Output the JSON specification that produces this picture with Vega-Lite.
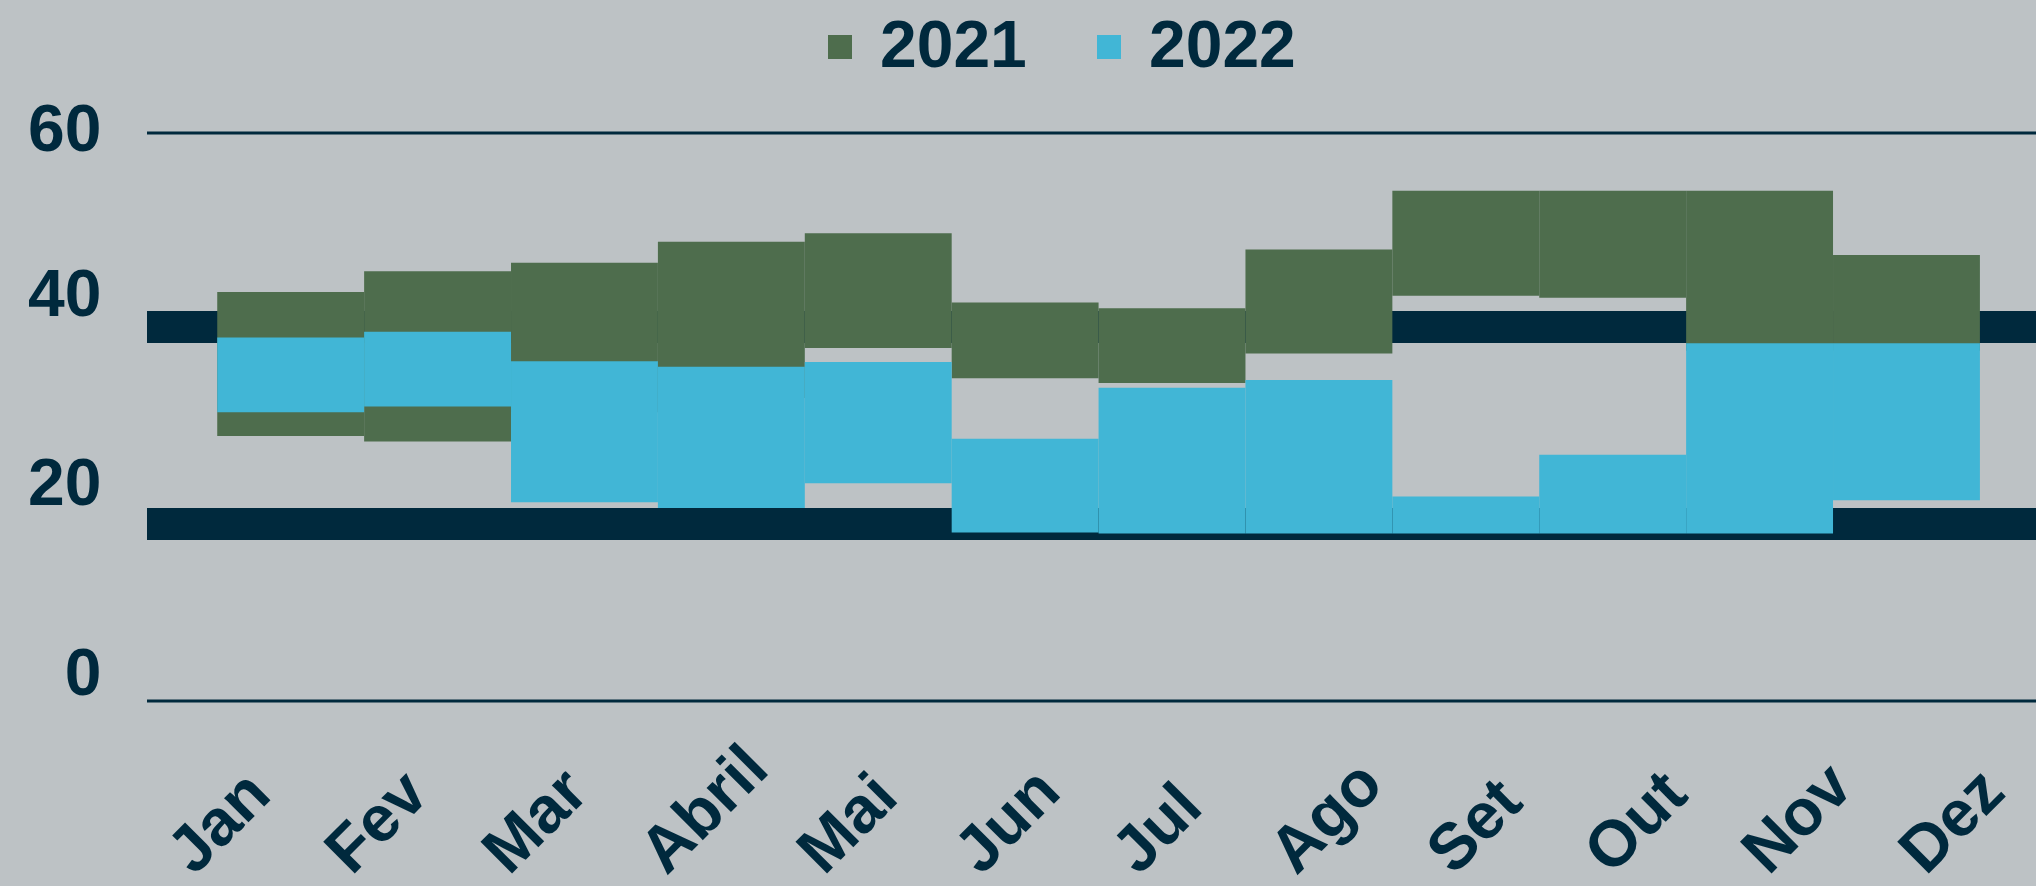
{
  "$schema": "https://vega.github.io/schema/vega-lite/v6.json",
  "width": 1889,
  "height": 568,
  "autosize": {"type": "none"},
  "padding": {"left": 147, "top": 133, "right": 0, "bottom": 185},
  "background": "#BDC2C5",
  "config": {"view": {"stroke": null}, "font": "Liberation Sans"},
  "data": {"values": [
    {"month": "Jan", "year": "2021", "low": 28.0, "high": 43.2},
    {"month": "Fev", "year": "2021", "low": 27.4, "high": 45.4},
    {"month": "Mar", "year": "2021", "low": 30.5, "high": 46.3},
    {"month": "Abril", "year": "2021", "low": 32.0, "high": 48.5},
    {"month": "Mai", "year": "2021", "low": 37.3, "high": 49.4},
    {"month": "Jun", "year": "2021", "low": 34.1, "high": 42.1},
    {"month": "Jul", "year": "2021", "low": 33.6, "high": 41.5},
    {"month": "Ago", "year": "2021", "low": 36.7, "high": 47.7},
    {"month": "Set", "year": "2021", "low": 42.8, "high": 53.9},
    {"month": "Out", "year": "2021", "low": 42.6, "high": 53.9},
    {"month": "Nov", "year": "2021", "low": 37.0, "high": 53.9},
    {"month": "Dez", "year": "2021", "low": 37.0, "high": 47.1},
    {"month": "Jan", "year": "2022", "low": 30.5, "high": 38.4},
    {"month": "Fev", "year": "2022", "low": 31.1, "high": 39.0},
    {"month": "Mar", "year": "2022", "low": 21.0, "high": 35.9},
    {"month": "Abril", "year": "2022", "low": 20.4, "high": 35.3},
    {"month": "Mai", "year": "2022", "low": 23.0, "high": 35.8},
    {"month": "Jun", "year": "2022", "low": 17.8, "high": 27.7},
    {"month": "Jul", "year": "2022", "low": 17.7, "high": 33.1},
    {"month": "Ago", "year": "2022", "low": 17.7, "high": 33.9},
    {"month": "Set", "year": "2022", "low": 17.7, "high": 21.6},
    {"month": "Out", "year": "2022", "low": 17.7, "high": 26.0},
    {"month": "Nov", "year": "2022", "low": 17.7, "high": 37.8},
    {"month": "Dez", "year": "2022", "low": 21.2, "high": 37.8}
  ]},
  "layer": [
    {
      "data": {"values": [{}]},
      "mark": {"type": "rule", "color": "#00293D", "strokeWidth": 3},
      "encoding": {"y": {"datum": 60, "type": "quantitative"}}
    },
    {
      "data": {"values": [{}]},
      "mark": {"type": "rule", "color": "#00293D", "strokeWidth": 3},
      "encoding": {"y": {"datum": 0, "type": "quantitative"}}
    },
    {
      "data": {"values": [{}]},
      "mark": {"type": "rule", "color": "#00293D", "strokeWidth": 32},
      "encoding": {"y": {"datum": 39.5, "type": "quantitative"}}
    },
    {
      "data": {"values": [{}]},
      "mark": {"type": "rule", "color": "#00293D", "strokeWidth": 32},
      "encoding": {"y": {"datum": 18.7, "type": "quantitative"}}
    },
    {
      "transform": [{"filter": "datum.year === '2021'"}],
      "mark": {"type": "point", "opacity": 0},
      "encoding": {
        "x": {
          "field": "month", "type": "ordinal",
          "sort": ["Jan","Fev","Mar","Abril","Mai","Jun","Jul","Ago","Set","Out","Nov","Dez"],
          "scale": {"paddingInner": 0, "paddingOuter": 0},
          "axis": {
            "title": null, "ticks": false, "domain": false, "grid": false,
            "labelAngle": -45, "labelAlign": "left", "labelBaseline": "alphabetic",
            "labelFontSize": 65, "labelFontWeight": "bold",
            "labelColor": "#00293D", "labelFont": "Liberation Sans",
            "labelPadding": 175, "labelOffset": -32, "labelOverlap": false, "labelFlush": false, "labelBound": false
          }
        }
      }
    },
    {
      "mark": {"type": "bar", "opacity": 1},
      "encoding": {
        "x": {
          "field": "month", "type": "ordinal",
          "sort": ["Jan","Fev","Mar","Abril","Mai","Jun","Jul","Ago","Set","Out","Nov","Dez"],
          "scale": {"paddingInner": 0, "paddingOuter": 0.43, "align": 0.556},
          "axis": null
        },
        "y": {
          "field": "high", "type": "quantitative",
          "scale": {"domain": [0, 60], "nice": false},
          "axis": {
            "title": null, "values": [0, 20, 40, 60], "grid": false, "ticks": false, "domain": false,
            "labelFontSize": 66, "labelFontWeight": "bold", "labelColor": "#00293D", "labelFont": "Liberation Sans",
            "labelPadding": 46, "labelOffset": {"expr": "datum.value === 60 ? -3 : -27"}
          }
        },
        "y2": {"field": "low"},
        "color": {
          "field": "year", "type": "nominal",
          "scale": {"domain": ["2021", "2022"], "range": ["#4E6D4D", "#41B6D6"]},
          "legend": {
            "title": null, "orient": "none", "legendX": 660, "legendY": -119, "direction": "horizontal",
            "symbolType": "square", "symbolSize": 576, "symbolStrokeWidth": 0, "symbolOpacity": 1,
            "labelFontSize": 66, "labelFontWeight": "bold", "labelColor": "#00293D", "labelFont": "Liberation Sans",
            "labelOffset": 7, "columnPadding": 49, "padding": 0, "labelLimit": 400
          }
        }
      }
    }
  ],
  "resolve": {"scale": {"x": "independent"}, "axis": {"x": "independent"}}
}
